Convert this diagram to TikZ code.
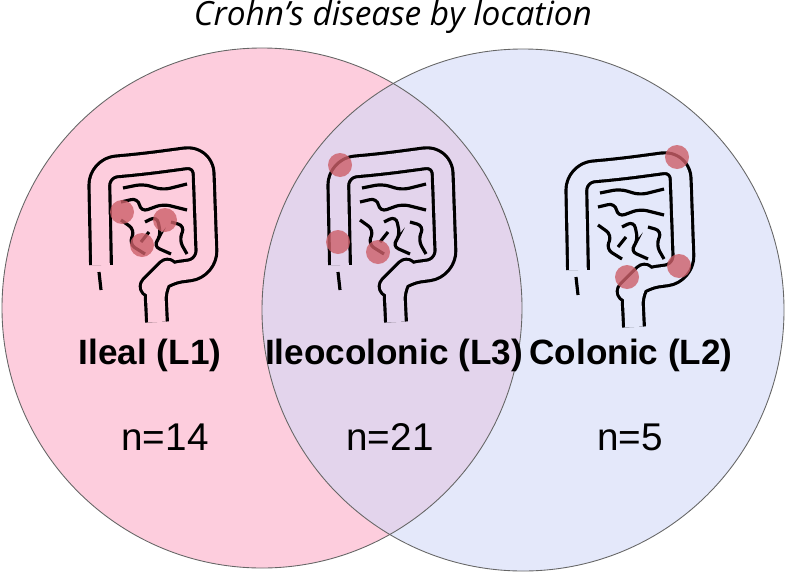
\documentclass[tikz,border=0pt]{standalone}
\usepackage{fontspec}
\setmainfont{Liberation Sans}
\newfontfamily\titlefont{Open Sans}
\usetikzlibrary{positioning,calc}
\definecolor{pinkfill}{RGB}{253,205,221}
\definecolor{bluefill}{RGB}{210,217,247}
\definecolor{spot}{RGB}{205,95,105}
\definecolor{overlapfill}{RGB}{227,212,237}
\definecolor{bluebg}{RGB}{228,232,250}
\tikzset{
  tube/.style={line width=1.8pt, double=#1, double distance=10pt, line join=round, rounded corners=10pt},
  gut/.style={line width=1.8pt, rounded corners=4pt},
  spotdot/.style={fill=spot, fill opacity=0.8, draw=none},
  pics/colon/.style={code={
    \draw[tube=#1] (18,125) -- (16,28) -- (60,24) -- (120,16) -- (124,128) -- (80,134) -- (72,142) -- (74,182);
    \draw[line width=1.8pt] (16,132) -- (18,150);
    \draw[gut] (40,48) -- (60,44) -- (80,50) -- (104,44);
    \draw[gut] (38,62) -- (55,58) -- (58,72) -- (80,64) -- (104,70);
    \draw[gut] (38,80) -- (52,90) -- (46,104) -- (62,114);
    \draw[gut] (62,82) -- (74,76) -- (78,96) -- (70,106) -- (88,114);
    \draw[gut] (88,82) -- (102,86) -- (96,100) -- (104,114);
    \draw[gut] (66,92) -- (58,102);
  }}
}
\begin{document}
\begin{tikzpicture}[x=0.02cm, y=-0.02cm]
  \useasboundingbox (0,0) rectangle (786,571);
  % circles
  \fill[pinkfill] (262,308) circle[radius=260];
  \fill[bluefill, fill opacity=0.6] (523,310) circle[radius=261];
  \draw[gray!80!black, line width=0.5pt] (262,308) circle[radius=260];
  \draw[gray!80!black, line width=0.5pt] (523,310) circle[radius=261];
  \node[font=\titlefont\itshape\fontsize{19}{22}\selectfont] (title) at (393,17) {Crohn’s disease by location};
  % icons
  \pic at (83,140) {colon=pinkfill};
  \pic at (322,140) {colon=overlapfill};
  \pic at (560,145) {colon=bluebg};
  \foreach \x/\y in {122/212, 165/220, 142/245, 340/165, 338/242, 378/252, 677/157, 627/277, 679/266}
    \fill[spotdot] (\x,\y) circle[radius=12];
  % labels
  \node[font=\bfseries\fontsize{20}{24}\selectfont] (ileal) at (150,355) {Ileal (L1)};
  \node[font=\bfseries\fontsize{20}{24}\selectfont] (ileocolonic) at (394,355) {Ileocolonic (L3)};
  \node[font=\bfseries\fontsize{20}{24}\selectfont] (colonic) at (631,355) {Colonic (L2)};
  \node[font=\fontsize{22}{26}\selectfont] (n1) at (165,437) {n=14};
  \node[font=\fontsize{22}{26}\selectfont] (n3) at (390,437) {n=21};
  \node[font=\fontsize{22}{26}\selectfont] (n2) at (630,437) {n=5};
\end{tikzpicture}
\end{document}
